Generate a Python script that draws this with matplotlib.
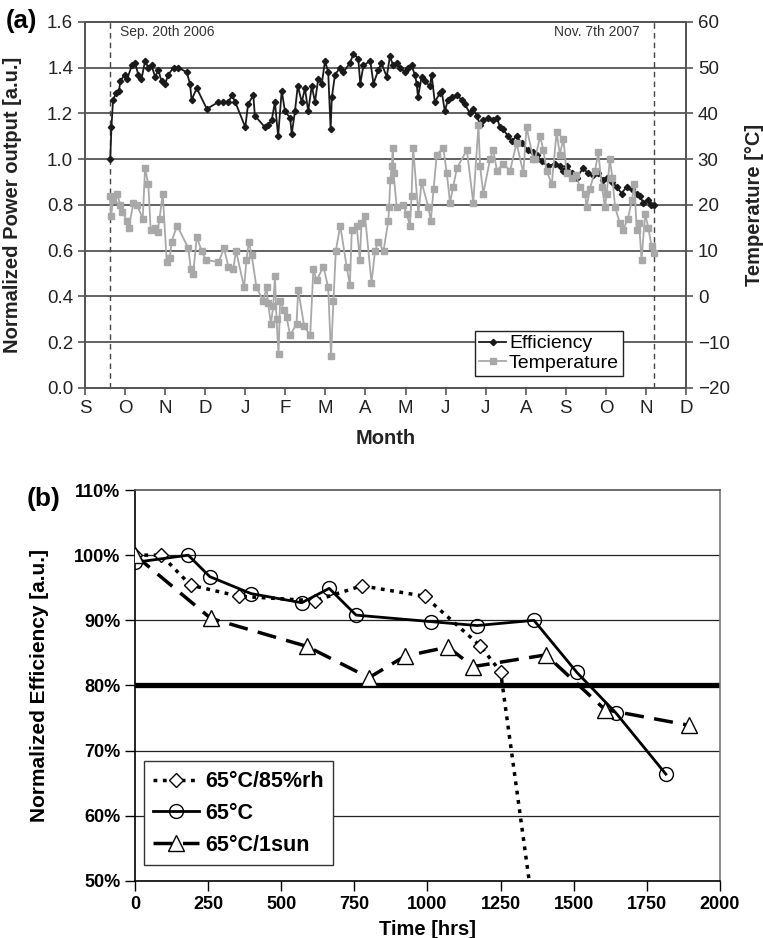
import matplotlib
matplotlib.use('Agg')
import matplotlib.pyplot as plt

plt.rcParams['font.family'] = ['Liberation Sans', 'DejaVu Sans']

# ---- panel (a): outdoor data, x in months since Sep 1st 2006 ----
month_labels = ['S', 'O', 'N', 'D', 'J', 'F', 'M', 'A', 'M', 'J', 'J', 'A', 'S', 'O', 'N', 'D']

eff_month = [0.63, 0.66, 0.70, 0.78, 0.85, 0.88, 0.99, 1.05, 1.17, 1.25, 1.33, 1.41, 1.50, 1.58,
             1.66, 1.75, 1.83, 1.91, 2.00, 2.08, 2.21, 2.33, 2.54, 2.62, 2.66, 2.79, 3.04, 3.33,
             3.45, 3.58, 3.67, 3.75, 4.00, 4.07, 4.20, 4.24, 4.49, 4.57, 4.66, 4.74, 4.82, 4.91,
             4.99, 5.12, 5.16, 5.24, 5.31, 5.41, 5.49, 5.57, 5.66, 5.74, 5.82, 5.91, 5.99, 6.07,
             6.13, 6.16, 6.24, 6.37, 6.45, 6.61, 6.70, 6.82, 6.87, 6.95, 7.12, 7.20, 7.32, 7.40,
             7.53, 7.61, 7.69, 7.78, 7.86, 7.99, 8.07, 8.15, 8.23, 8.28, 8.31, 8.40, 8.49, 8.61,
             8.65, 8.73, 8.86, 8.90, 8.98, 9.06, 9.15, 9.28, 9.40, 9.48, 9.61, 9.68, 9.78, 9.86,
             9.93, 10.06, 10.19, 10.28, 10.36, 10.44, 10.56, 10.65, 10.77, 10.90, 11.06, 11.18,
             11.27, 11.40, 11.55, 11.73, 11.85, 11.93, 12.03, 12.15, 12.27, 12.43, 12.55, 12.68,
             12.80, 12.93, 13.03, 13.15, 13.27, 13.39, 13.52, 13.64, 13.77, 13.85, 13.93, 14.05,
             14.13, 14.20]
eff_value = [1.00, 1.14, 1.26, 1.29, 1.30, 1.34, 1.37, 1.35, 1.41, 1.42, 1.37, 1.35, 1.43, 1.40,
             1.41, 1.36, 1.39, 1.34, 1.33, 1.37, 1.40, 1.40, 1.38, 1.33, 1.26, 1.31, 1.22, 1.25,
             1.25, 1.25, 1.28, 1.25, 1.14, 1.24, 1.28, 1.19, 1.14, 1.15, 1.17, 1.25, 1.10, 1.30,
             1.21, 1.18, 1.11, 1.21, 1.32, 1.25, 1.31, 1.21, 1.32, 1.25, 1.35, 1.33, 1.43, 1.38,
             1.13, 1.27, 1.37, 1.40, 1.38, 1.42, 1.46, 1.44, 1.33, 1.41, 1.43, 1.33, 1.39, 1.42,
             1.36, 1.45, 1.41, 1.42, 1.40, 1.38, 1.40, 1.41, 1.37, 1.33, 1.27, 1.36, 1.34, 1.32,
             1.37, 1.25, 1.29, 1.30, 1.21, 1.26, 1.27, 1.28, 1.26, 1.24, 1.20, 1.22, 1.19, 1.15,
             1.17, 1.18, 1.17, 1.18, 1.14, 1.13, 1.10, 1.08, 1.10, 1.07, 1.04, 1.03,
             1.02, 0.99, 0.97, 0.98, 0.97, 0.95, 0.97, 0.94, 0.92, 0.96, 0.94, 0.93,
             0.94, 0.91, 0.92, 0.90, 0.88, 0.85, 0.88, 0.87, 0.85, 0.84, 0.81, 0.82,
             0.80, 0.80]

temp_month = [0.63, 0.65, 0.70, 0.80, 0.88, 0.93, 1.05, 1.09, 1.21, 1.30, 1.44, 1.50, 1.58, 1.64,
              1.75, 1.81, 1.86, 1.94, 2.04, 2.12, 2.16, 2.30, 2.58, 2.64, 2.70, 2.79, 2.91, 3.02,
              3.33, 3.47, 3.58, 3.70, 3.77, 3.97, 4.03, 4.09, 4.16, 4.28, 4.45, 4.53, 4.57, 4.64,
              4.70, 4.74, 4.78, 4.83, 4.87, 4.97, 5.03, 5.12, 5.28, 5.32, 5.47, 5.62, 5.70, 5.78,
              5.95, 6.07, 6.14, 6.20, 6.26, 6.37, 6.53, 6.61, 6.66, 6.78, 6.86, 6.90, 6.99, 7.15,
              7.24, 7.32, 7.45, 7.57, 7.59, 7.62, 7.66, 7.68, 7.70, 7.78, 7.94, 8.03, 8.11, 8.15,
              8.19, 8.32, 8.40, 8.57, 8.63, 8.70, 8.78, 8.94, 9.03, 9.11, 9.19, 9.28, 9.53, 9.69,
              9.82, 9.86, 9.94, 10.11, 10.19, 10.28, 10.44, 10.61, 10.77, 10.94, 11.02, 11.19,
              11.23, 11.36, 11.44, 11.52, 11.65, 11.77, 11.85, 11.94, 12.02, 12.15, 12.25, 12.35,
              12.48, 12.52, 12.60, 12.73, 12.81, 12.90, 12.98, 13.02, 13.10, 13.16, 13.23, 13.35,
              13.43, 13.55, 13.65, 13.71, 13.77, 13.83, 13.89, 13.98, 14.06, 14.14, 14.21]
temp_value = [22, 17.5, 21, 22.5, 20, 18.5, 16.5, 15, 20.5, 20, 17, 28, 24.5, 14.5,
              15, 14, 17, 22.5, 7.5, 8.5, 12, 15.5, 10.5, 6, 5, 13, 10, 8,
              7.5, 10.5, 6.5, 6, 10, 2, 8, 12, 9, 2, -1, 2, -1.5, -6,
              -2, 4.5, -5, -12.5, -1, -3, -4.5, -8.5, -6, 1.5, -6.5, -8.5, 6, 3.5,
              6.5, 2, -13, -1, 10, 15.5, 6.5, 2.5, 14.5, 15.5, 8, 16, 17.5, 3,
              10, 12, 10, 16.5, 19.5, 25.5, 28.5, 32.5, 27, 19.5, 20, 18, 15.5, 22,
              32.5, 18, 25, 19.5, 16.5, 23.5, 31, 32.5, 27, 20.5, 24, 28, 32, 20.5,
              37.5, 28.5, 22.5, 30, 32, 27.5, 29, 27.5, 33.5, 27, 37, 30,
              30, 35, 32, 27.5, 24.5, 36, 31, 34.5, 27, 26, 26.5, 24,
              22.5, 19.5, 23.5, 27.5, 31.5, 24, 19.5, 22.5, 30, 26, 19.5, 16,
              14.5, 17, 21, 24.5, 14.5, 16, 8, 18, 15, 11, 9.5]

start_month = 0.63   # Sep. 20th 2006
end_month = 14.2     # Nov. 7th 2007

# ---- panel (b): accelerated tests ----
rh_hours = [0, 90, 190, 355, 615, 775, 990, 1180, 1250, 1360]
rh_eff = [100, 100, 95.4, 93.7, 93.0, 95.3, 93.7, 86.1, 82.1, 46]

c65_hours = [0, 182, 256, 397, 570, 664, 756, 1012, 1169, 1364, 1511, 1644, 1815]
c65_eff = [98.9, 100, 96.7, 94.1, 92.7, 94.9, 90.8, 89.8, 89.2, 90.0, 82.0, 75.8, 66.4]

sun_hours = [0, 259, 588, 800, 923, 1070, 1156, 1405, 1607, 1894]
sun_eff = [100, 90.3, 86.0, 81.2, 84.5, 85.9, 82.9, 84.7, 76.3, 73.9]

fig = plt.figure(figsize=(7.63, 9.38), dpi=100)

# ================= (a) =================
ax1 = fig.add_axes([0.1114, 0.5864, 0.7877, 0.3902])
ax2 = ax1.twinx()

for y in [0.2, 0.4, 0.6, 0.8, 1.0, 1.2, 1.4]:
    ax1.axhline(y, color='#555555', lw=1.3, zorder=0)

ax1.axvline(start_month, color='#444444', lw=1.0, ls=(0, (4, 3)), zorder=1)
ax1.axvline(end_month, color='#444444', lw=1.0, ls=(0, (4, 3)), zorder=1)
ax1.text(0.87, 1.556, 'Sep. 20th 2006', fontsize=10, color='#333333', va='center')
ax1.text(13.85, 1.556, 'Nov. 7th 2007', fontsize=10, color='#333333', va='center', ha='right')

l_eff, = ax1.plot(eff_month, eff_value, color='#1a1a1a', lw=1.3, marker='D', ms=3.2,
                  label='Efficiency', zorder=3)
l_temp, = ax2.plot(temp_month, temp_value, color='#a8a8a8', lw=1.3, marker='s', ms=3.8,
                   label='Temperature', zorder=3)

ax1.set_xlim(0, 15)
ax1.set_ylim(0, 1.6)
ax2.set_ylim(-20, 60)
ax1.set_xticks(range(16))
ax1.set_xticklabels(month_labels)
ax1.set_yticks([0.0, 0.2, 0.4, 0.6, 0.8, 1.0, 1.2, 1.4, 1.6])
ax1.set_yticklabels(['0.0', '0.2', '0.4', '0.6', '0.8', '1.0', '1.2', '1.4', '1.6'])
ax2.set_yticks(range(-20, 61, 10))

for ax in (ax1, ax2):
    for s in ax.spines.values():
        s.set_color('#555555')
        s.set_linewidth(1.3)
    ax.tick_params(direction='out', length=5, width=1.2, color='#555555',
                   labelsize=13.5, labelcolor='#222222')

ax1.set_ylabel('Normalized Power output [a.u.]', fontsize=14.5, fontweight='bold', color='#222222')
ax1.yaxis.set_label_coords(-0.105, 0.5)
ax1.set_xlabel('Month', fontsize=14.5, fontweight='bold', color='#222222')
ax1.xaxis.set_label_coords(0.5, -0.112)
ax2.set_ylabel('Temperature [°C]', fontsize=14.5, fontweight='bold', color='#222222')
ax2.yaxis.set_label_coords(1.098, 0.5)

leg = ax2.legend(handles=[l_eff, l_temp], loc='lower left', bbox_to_anchor=(0.649, 0.033),
                 fontsize=14, frameon=True, fancybox=False, handlelength=1.4,
                 handletextpad=0.15, borderpad=0.2, labelspacing=0.1, borderaxespad=0)
leg.get_frame().set_edgecolor('#222222')
leg.get_frame().set_linewidth(1.0)
leg.get_frame().set_alpha(1)

fig.text(0.007, 0.978, '(a)', fontsize=18.5, fontweight='bold', va='center')

# ================= (b) =================
ax3 = fig.add_axes([0.1769, 0.0608, 0.7667, 0.4168])

for y in [60, 70, 90, 100]:
    ax3.axhline(y, color='#222222', lw=0.9, zorder=0)
ax3.axhline(80, color='black', lw=3.8, zorder=1)

ax3.plot(rh_hours, rh_eff, color='black', lw=2.5, ls=(0, (1.1, 1.6)), marker='D', ms=7,
         mfc='white', mec='black', mew=1.0, label='65°C/85%rh', zorder=3)
ax3.plot(c65_hours, c65_eff, color='black', lw=2.0, ls='-', marker='o', ms=10,
         mfc='none', mec='black', mew=1.0, label='65°C', zorder=3)
ax3.plot(sun_hours, sun_eff, color='black', lw=2.5, ls=(0, (5.5, 3)), marker='^', ms=11,
         mfc='white', mec='black', mew=1.0, label='65°C/1sun', zorder=3)

ax3.set_xlim(0, 2000)
ax3.set_ylim(50, 110)
ax3.set_xticks(range(0, 2001, 250))
ax3.set_yticks(range(50, 111, 10))
ax3.set_yticklabels(['%d%%' % v for v in range(50, 111, 10)])
ax3.tick_params(direction='out', length=7, width=1.0, labelsize=13)
for lab in ax3.get_xticklabels() + ax3.get_yticklabels():
    lab.set_fontweight('bold')
ax3.spines['left'].set_color('black')
ax3.spines['bottom'].set_color('black')
ax3.spines['top'].set_color('#555555')
ax3.spines['right'].set_color('#777777')
for s in ax3.spines.values():
    s.set_linewidth(1.2)

ax3.set_ylabel('Normalized Efficiency [a.u.]', fontsize=15, fontweight='bold')
ax3.yaxis.set_label_coords(-0.147, 0.5)
ax3.set_xlabel('Time [hrs]', fontsize=14.5, fontweight='bold')
ax3.xaxis.set_label_coords(0.5, -0.1)

leg2 = ax3.legend(loc='lower left', bbox_to_anchor=(0.015, 0.04), borderaxespad=0,
                  prop={'size': 15.5, 'weight': 'bold'}, frameon=True, fancybox=False,
                  handlelength=2.1, handletextpad=0.3, borderpad=0.45, labelspacing=0.5)
leg2.get_frame().set_edgecolor('#333333')
leg2.get_frame().set_linewidth(1.0)
leg2.get_frame().set_alpha(1)

fig.text(0.035, 0.468, '(b)', fontsize=19, fontweight='bold', va='center')

fig.savefig('out.png', dpi=100)
